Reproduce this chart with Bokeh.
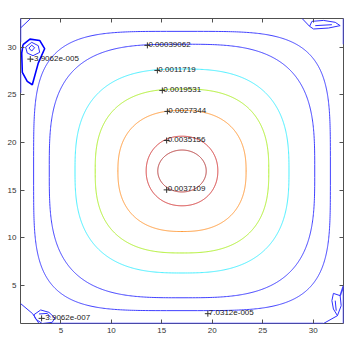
import numpy as np
from bokeh.plotting import figure
from bokeh.models import LinearAxis, FixedTicker, Range1d
from bokeh.embed import file_html
from bokeh.resources import INLINE
from bokeh.core.properties import value

# ---- contour levels (labelled values) and geometry ----
levels = [7.0312e-05, 0.00039062, 0.0011719, 0.0019531, 0.0027344, 0.0035156, 0.0037109]
level_colors = ["#4040ff", "#4040ff", "#48f0ff", "#b0f030", "#ff9a38", "#d43232", "#b43030"]
center_x = 17.0
center_y = 17.0
half_width_x = [14.7, 13.15, 10.6, 8.6, 6.35, 3.55, 2.4]
half_width_y = [14.65, 13.3, 10.7, 8.6, 6.35, 3.65, 2.2]
squareness = [4.2, 3.2, 2.7, 2.6, 2.4, 2.1, 2.0]

# ---- contour labels ----
label_text = ["0.00039062", "0.0011719", "0.0019531", "0.0027344", "0.0035156",
              "0.0037109", "7.0312e-005", "-3.9062e-005", "-3.9062e-007"]
label_x = [13.57, 14.56, 15.05, 15.55, 15.48, 15.48, 19.56, 1.97, 3.09]
label_y = [30.18, 27.55, 25.45, 23.25, 20.2, 15.02, 2.03, 28.74, 1.54]

# ---- small corner contours (near-zero / negative levels) ----
tl_outer_x = [1.25, 1.94, 2.9, 3.39, 2.76, 2.17, 1.67, 1.18, 1.12, 1.25]
tl_outer_y = [30.25, 30.84, 30.7, 29.83, 28.32, 26.05, 26.4, 27.35, 29.37, 30.25]
tl_mid_x = [1.51, 2.11, 2.76, 2.9, 2.24, 1.67, 1.51]
tl_mid_y = [30.0, 30.5, 30.15, 29.45, 29.1, 29.37, 30.0]
tl_in_x = [1.84, 2.11, 2.40, 2.11, 1.84]
tl_in_y = [29.9, 30.2, 29.94, 29.58, 29.9]
tl_corner_x = [1.0, 2.0]
tl_corner_y = [32.0, 33.0]
tl_edge_x = [1.0, 1.0, 1.0, 1.0]
tl_edge_y = [33.0, 30.5, 27.2, 25.2]

tr_poly_x = [29.64, 29.87, 31.02, 32.18, 32.67, 31.51, 30.03, 29.64]
tr_poly_y = [32.18, 32.70, 32.8, 32.6, 32.25, 32.0, 31.9, 32.18]
tr_line_x = [28.9, 29.64]
tr_line_y = [33.0, 32.18]
tr_in_x = [30.2, 31.85]
tr_in_y = [32.25, 32.35]
tr_edge_x = [33.0, 33.0]
tr_edge_y = [30.3, 33.0]

bl_line_x = [1.0, 2.2, 2.83]
bl_line_y = [3.1, 2.03, 1.0]
bl_poly_x = [2.33, 3.0, 3.82, 4.41, 4.14, 3.15, 2.5, 2.33]
bl_poly_y = [1.92, 2.42, 2.17, 1.58, 1.12, 1.0, 1.47, 1.92]
bl_in_x = [2.83, 3.65, 3.98]
bl_in_y = [2.0, 2.06, 1.64]
bottom_edge_x = [4.1, 31.0]
bottom_edge_y = [1.0, 1.0]

br_poly_x = [31.85, 32.0, 32.67, 32.77, 32.4, 32.0, 31.85]
br_poly_y = [3.4, 4.16, 3.92, 2.87, 1.82, 2.52, 3.4]
br_line_x = [31.02, 32.4]
br_line_y = [1.0, 1.82]
br_in_x = [32.18, 32.28]
br_in_y = [3.4, 2.34]
br_edge_x = [33.0, 33.0, 32.67]
br_edge_y = [1.0, 5.0, 3.92]

ticks = [5, 10, 15, 20, 25, 30]
x_min, x_max = 1, 33
y_min, y_max = 1, 33

FONT = "Liberation Sans"

p = figure(width=346, height=346, x_range=Range1d(x_min, x_max), y_range=Range1d(y_min, y_max),
           output_backend="svg", toolbar_location=None,
           min_border_left=20, min_border_right=3, min_border_top=18, min_border_bottom=23)
p.grid.visible = False
p.background_fill_color = "white"
p.border_fill_color = "white"
p.outline_line_color = "#505050"
p.outline_line_width = 1

# main contours
t = np.linspace(0, 2 * np.pi, 721)
for a, b, n, c in zip(half_width_x, half_width_y, squareness, level_colors):
    ct, st = np.cos(t), np.sin(t)
    xs = center_x + a * np.sign(ct) * np.abs(ct) ** (2.0 / n)
    ys = center_y + b * np.sign(st) * np.abs(st) ** (2.0 / n)
    p.line(xs, ys, line_color=c, line_width=1)

# corner contours
thick = [(tl_outer_x, tl_outer_y)]
thin = [(tl_mid_x, tl_mid_y), (tl_in_x, tl_in_y), (tl_corner_x, tl_corner_y),
        (tr_poly_x, tr_poly_y), (tr_line_x, tr_line_y), (tr_in_x, tr_in_y),
        (bl_line_x, bl_line_y), (bl_poly_x, bl_poly_y), (bl_in_x, bl_in_y),
        (br_poly_x, br_poly_y), (br_line_x, br_line_y), (br_in_x, br_in_y)]
p.multi_line([q[0] for q in thick], [q[1] for q in thick], line_color="#0000ff", line_width=1.6)
p.multi_line([q[0] for q in thin], [q[1] for q in thin], line_color="#3030ff", line_width=1)
edges = [(tl_edge_x[:2], tl_edge_y[:2]), (tl_edge_x[2:], tl_edge_y[2:]), (tr_edge_x, tr_edge_y),
         (bottom_edge_x, bottom_edge_y), (br_edge_x, br_edge_y)]
p.multi_line([q[0] for q in edges], [q[1] for q in edges], line_color="#4040ff", line_width=1.5)

# labels with "+" markers
p.scatter(label_x, label_y, marker="cross", size=6, line_color="#333333", line_width=1)
p.text(label_x, label_y, text=label_text, text_font=value(FONT), text_font_size="8px",
       text_color="#1a1a1a", text_align="left", text_baseline="alphabetic", x_offset=1, y_offset=-1)

# axes (MATLAB-like box with inward ticks)
def style(ax, labels=True):
    ax.ticker = FixedTicker(ticks=ticks)
    ax.major_tick_in = 4
    ax.major_tick_out = 0
    ax.minor_tick_line_color = None
    ax.axis_line_color = None
    ax.major_tick_line_color = "#505050"
    ax.major_label_text_font = FONT
    ax.major_label_text_color = "#333333"
    if labels:
        ax.major_label_text_font_size = "8px"
        ax.major_label_standoff = 4
    else:
        ax.major_label_text_font_size = "0px"
        ax.major_label_standoff = 0

style(p.xaxis[0])
style(p.yaxis[0])
top = LinearAxis()
right = LinearAxis()
style(top, False)
style(right, False)
p.add_layout(top, "above")
p.add_layout(right, "right")

open("out.html", "w").write(file_html(p, INLINE))
